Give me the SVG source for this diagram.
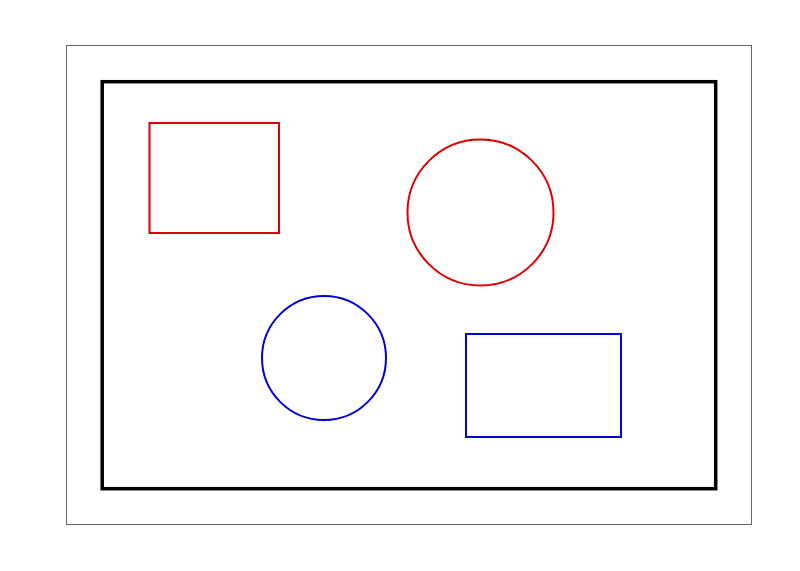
<svg xmlns="http://www.w3.org/2000/svg" width="800" height="571" viewBox="0 0 800 571">
<style>
.frame{fill:none;stroke:#666;stroke-width:1}
.border{fill:none;stroke:#000;stroke-width:3.5}
.red{fill:none;stroke:#e00000;stroke-width:2}
.blue{fill:none;stroke:#0000dd;stroke-width:2}
</style>
<rect width="800" height="571" fill="#fff"/>
<rect class="frame" x="66.5" y="45.5" width="685" height="479"/>
<rect class="border" x="102.2" y="81.7" width="613.5" height="407"/>
<g id="red-rect"><rect class="red" x="149.5" y="123" width="129.5" height="110"/></g>
<g id="red-circle"><circle class="red" cx="480.5" cy="212.5" r="73"/></g>
<g id="blue-circle"><circle class="blue" cx="324" cy="358" r="62"/></g>
<g id="blue-rect"><rect class="blue" x="466" y="334" width="155" height="103"/></g>
<g id="connectors"></g>
</svg>
